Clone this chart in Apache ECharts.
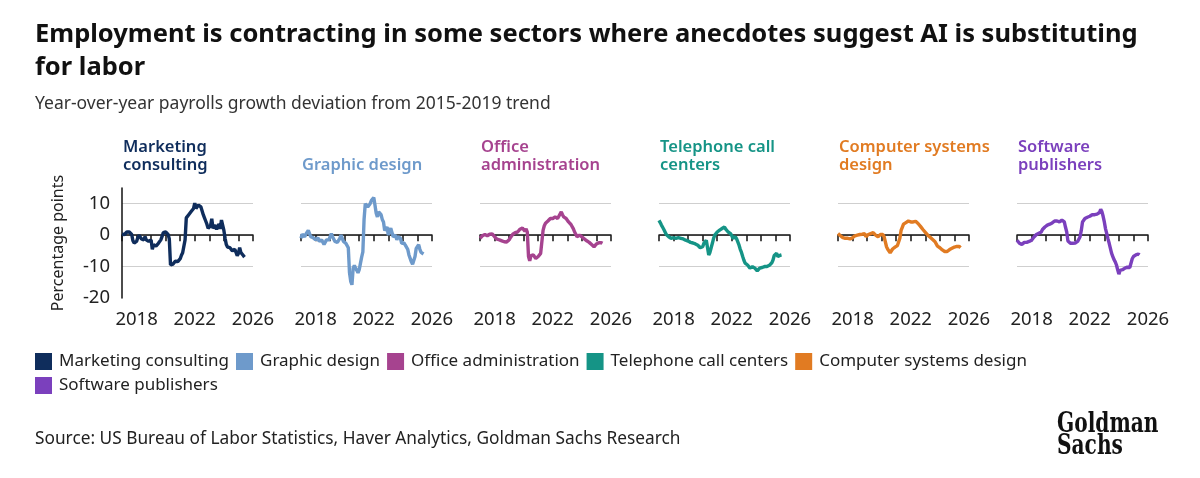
<!DOCTYPE html>
<html>
<head>
<meta charset="utf-8">
<script src="https://cdn.jsdelivr.net/npm/echarts@6/dist/echarts.min.js"></script>
<style>
    html, body { margin: 0; padding: 0; background: #fff; }
    #chart { width: 1200px; height: 478px; }
</style>
</head>
<body>
<div id="chart"></div>
<script>
// monthly observations, Jan 2017 .. Jun 2025
var startYear = 2017;

var sectorNames = ['Marketing consulting', 'Graphic design', 'Office administration',
    'Telephone call centers', 'Computer systems design', 'Software publishers'];
var panelTitles = ['Marketing\nconsulting', 'Graphic design', 'Office\nadministration',
    'Telephone call\ncenters', 'Computer systems\ndesign', 'Software\npublishers'];
var sectorColors = ['#0f2d5c', '#6e9acb', '#a6438f', '#159486', '#e17b22', '#7b40bd'];

var xTickLabels = [2018, 2022, 2026];
var yTickLabels = [-20, -10, 0, 10];

var marketing = [0.3, 0, 0.2, 0.5, 1.0, 1.2, 1.0, 0.8, 0.2, -1.8, -2.5, -3.0,
    -2.0, -0.8, 0, -0.5, -1.2, -0.6, -1.5, -0.5, -1.5, -1.2, -2.0, -2.2,
    -1.5, -4.5, -3.0, -2.8, -3.5, -3.2, -2.6, -2.6, -1.5, -0.5, 0.8, 1.0,
    1.0, 0.6, 0.2, -1.2, -9.5, -9.6, -9.2, -8.8, -8.3, -8.0, -8.4, -7.8,
    -7.5, -6.4, -5.6, -5.3, -1.5, 5.5, 6.0, 6.5, 6.8, 7.5, 7.8, 8.5,
    10.2, 8.5, 9.0, 9.6, 10.0, 9.0, 8.5, 6.5, 5.5, 4.5, 3.5, 2.2,
    2.5, 3.0, 5.2, 2.2, 2.8, 3.2, 1.8, 2.8, 3.5, 2.0, 4.8, 4.6,
    1.5, -1.0, -3.0, -3.8, -4.2, -4.0, -3.5, -5.0, -5.6, -4.5, -5.5, -6.5,
    -5.8, -4.0, -5.5, -6.0, -6.5, -7.0];

var graphic = [-1.0, 0.3, 0.0, -0.5, 0.3, 0.8, 1.5, 2.0, -0.5, -0.3, -0.8, -1.2,
    -1.5, -1.0, -0.8, -2.0, -2.4, -1.5, -2.0, -3.0, -2.5, -1.5, -1.8, -1.5,
    -0.5, 0.5, -0.5, -1.0, -2.0, -2.6, -2.3, -2.0, -1.0, 0.0, -1.0, -2.0,
    -2.6, -2.6, -3.2, -4.0, -12.0, -14.7, -15.8, -10.5, -9.6, -10.5, -11.2, -12.0,
    -11.0, -9.0, -7.0, -5.3, 5.0, 10.0, 10.5, 9.0, 9.5, 10.0, 11.0, 11.5,
    12.0, 9.5, 7.0, 5.8, 7.4, 8.0, 6.5, 5.0, 4.2, 1.5, 2.0, 2.6,
    0.0, 1.5, 2.2, 2.6, -0.5, -0.5, 0.0, -1.5, -0.5, -0.8, -1.0, -2.6,
    -2.0, -2.5, -3.2, -2.6, -4.5, -6.3, -7.4, -8.5, -9.3, -9.0, -6.8, -4.2,
    -3.7, -3.0, -4.5, -5.5, -5.8, -6.0];

var office = [-1.0, -0.4, -0.2, 0.0, 0.2, 0.3, -0.2, 0.0, 0.3, 0.0, 0.4, 0.5,
    -0.5, -1.0, -1.3, -1.4, -1.5, -1.6, -1.8, -1.9, -2.1, -2.3, -2.2, -2.0,
    -1.5, -0.8, -0.2, 0.3, 0.7, 0.8, 1.0, 1.0, 1.4, 1.9, 1.6, 2.3,
    1.8, 1.2, 2.0, 1.0, -6.8, -8.2, -6.5, -6.8, -6.3, -6.6, -7.4, -7.0,
    -6.8, -6.4, -5.8, -5.5, 1.5, 3.0, 3.8, 4.0, 4.5, 5.0, 5.3, 5.0,
    5.3, 5.5, 5.8, 5.5, 5.3, 6.0, 6.3, 7.4, 6.5, 5.8, 5.5, 5.3,
    4.8, 4.2, 3.8, 3.4, 3.2, 2.0, 1.0, 0.3, -0.5, -0.2, 0.0, -0.3,
    -0.5, -0.8, -1.2, -1.5, -1.8, -2.1, -2.3, -2.6, -3.0, -3.2, -3.7, -3.2,
    -2.8, -2.3, -2.4, -2.1, -2.4, -2.6];

var telephone = [4.7, 4.0, 3.2, 2.5, 1.8, 1.0, 0.2, 0.0, -0.5, -0.8, -1.0, -0.7,
    -0.8, -1.2, -1.0, -0.9, -0.8, -1.1, -1.0, -1.3, -1.2, -1.5, -1.6, -1.5,
    -1.9, -2.0, -2.3, -2.2, -2.5, -2.7, -2.8, -3.0, -3.2, -3.6, -4.0, -3.8,
    -3.7, -2.6, -2.0, -1.6, -2.1, -6.3, -5.5, -4.0, -2.6, -1.0, 0.0, 0.6,
    1.0, 1.4, 1.6, 1.8, 2.1, 2.4, 2.6, 1.9, 1.5, 1.0, 0.8, 0.5,
    -0.2, -1.0, -1.6, -0.5, -1.2, -1.6, -3.2, -4.5, -5.5, -6.8, -8.0, -8.9,
    -9.3, -9.5, -10.0, -10.5, -10.2, -10.0, -10.3, -10.5, -10.8, -11.4, -10.8, -10.5,
    -10.6, -10.3, -10.5, -10.0, -10.2, -10.0, -9.8, -9.6, -9.5, -8.8, -7.9, -6.5,
    -5.9, -5.8, -6.8, -6.5, -6.4, -6.3];

var computer = [0.5, 0.3, -0.2, -0.4, -0.8, -0.9, -1.0, -1.1, -1.0, -1.3, -1.2, -1.0,
    -0.8, -0.6, -0.2, -0.1, 0.0, 0.0, 0.2, 0.4, 0.3, 0.5, 0.5, -0.5,
    0.0, 0.2, 0.4, 0.5, 0.6, 0.8, 0.5, 0.0, -0.3, -0.5, 0.0, 0.2,
    -0.3, 0.2, -0.5, -1.0, -3.7, -4.5, -5.0, -5.6, -5.0, -4.4, -4.2, -3.8,
    -3.7, -3.3, -3.0, -1.0, 1.5, 2.5, 3.5, 3.8, 4.0, 4.2, 4.5, 4.3,
    4.2, 4.3, 4.2, 4.5, 4.4, 4.0, 3.7, 3.2, 2.8, 2.2, 1.8, 1.3,
    0.9, 0.5, 0.0, -0.3, -0.7, -1.0, -1.4, -1.8, -2.1, -2.6, -3.5, -3.9,
    -4.0, -4.4, -4.7, -5.0, -5.2, -5.0, -5.2, -4.7, -4.6, -4.4, -4.2, -4.0,
    -3.8, -3.7, -3.6, -3.5, -3.6, -4.0];

var software = [-1.6, -2.0, -2.6, -2.8, -3.0, -2.5, -2.3, -2.6, -2.3, -2.3, -2.0, -1.8,
    -1.6, -1.0, -0.6, -0.3, 0.2, 0.5, 0.6, 0.8, 1.0, 1.8, 2.3, 2.6,
    2.8, 3.2, 3.2, 3.5, 3.7, 3.9, 4.2, 4.5, 4.3, 4.5, 4.4, 4.2,
    4.0, 4.8, 5.3, 4.2, 2.5, 1.0, -1.9, -2.4, -2.6, -2.5, -2.6, -2.4,
    -2.5, -2.3, -2.0, -1.9, -0.5, 1.5, 4.2, 4.8, 5.3, 5.4, 5.7, 5.8,
    6.0, 6.3, 6.5, 6.8, 6.5, 6.5, 6.7, 6.8, 7.2, 8.2, 7.5, 6.0,
    4.2, 2.0, 0.5, -1.2, -2.6, -4.2, -5.8, -6.8, -7.8, -8.5, -9.5, -11.0,
    -12.4, -11.2, -11.0, -11.0, -10.6, -10.5, -10.8, -10.2, -10.0, -10.3, -10.0, -7.5,
    -6.8, -6.5, -6.3, -5.8, -6.0, -6.3];

var sectorValues = [marketing, graphic, office, telephone, computer, software];

var panelLefts = [122, 301, 480, 659, 838, 1017];
var panelWidth = 131;
var fontFamily = 'Noto Sans';

var chart = echarts.init(document.getElementById('chart'), null, {renderer: 'canvas'});

function monthX(i) {
    return startYear + i / 12;
}

function genOption() {
    var grids = [], xAxes = [], yAxes = [], series = [];
    var titles = [{
        text: 'Employment is contracting in some sectors where anecdotes suggest AI is substituting\nfor labor',
        left: 35, top: 18, padding: 0,
        textStyle: {fontFamily: fontFamily, fontSize: 25.5, fontWeight: 'bold', color: '#111', lineHeight: 33}
    }, {
        text: 'Year-over-year payrolls growth deviation from 2015-2019 trend',
        left: 35, top: 95, padding: 0,
        textStyle: {fontFamily: fontFamily, fontSize: 17.5, fontWeight: 'normal', color: '#333'}
    }, {
        text: 'Source: US Bureau of Labor Statistics, Haver Analytics, Goldman Sachs Research',
        left: 35, top: 431, padding: 0,
        textStyle: {fontFamily: fontFamily, fontSize: 17.3, fontWeight: 'normal', color: '#222'}
    }];

    for (var k = 0; k < sectorNames.length; k++) {
        var twoLines = panelTitles[k].indexOf('\n') >= 0;
        titles.push({
            text: panelTitles[k],
            left: panelLefts[k] + 1, top: twoLines ? 138 : 156, padding: 0,
            textStyle: {fontFamily: fontFamily, fontSize: 16.5, fontWeight: 600, color: sectorColors[k], lineHeight: 18}
        });
        grids.push({left: panelLefts[k], width: panelWidth, top: 188, height: 110});
        xAxes.push({
            type: 'value', gridIndex: k, min: 2017, max: 2026, interval: 1,
            axisLine: {show: true, lineStyle: {color: '#111', width: 1.5}},
            axisTick: {show: true, length: 6, lineStyle: {color: '#111', width: 1.5}},
            splitLine: {show: false},
            axisLabel: {
                fontFamily: fontFamily, fontSize: 18.5, color: '#222', margin: 12,
                showMinLabel: true, showMaxLabel: true,
                formatter: function (v) {
                    return xTickLabels.indexOf(Math.round(v)) >= 0 ? String(Math.round(v)) : '';
                }
            }
        });
        yAxes.push({
            type: 'value', gridIndex: k, min: -20, max: 15, interval: 10,
            name: k === 0 ? 'Percentage points' : '',
            nameLocation: 'middle', nameGap: 56,
            nameTextStyle: {fontFamily: fontFamily, fontSize: 16, color: '#222'},
            axisLine: {show: k === 0, lineStyle: {color: '#111', width: 1.5}},
            axisTick: {show: false},
            splitLine: {show: true, showMinLine: false, showMaxLine: false, lineStyle: {color: '#cfcfcf', width: 1.2}},
            axisLabel: {
                show: k === 0, fontFamily: fontFamily, fontSize: 18.5, color: '#222', margin: 12,
                showMaxLabel: false,
                formatter: function (v) {
                    return yTickLabels.indexOf(v) >= 0 ? String(v) : '';
                }
            }
        });
        var pts = [];
        for (var i = 0; i < sectorValues[k].length; i++) {
            pts.push([monthX(i), sectorValues[k][i]]);
        }
        series.push({
            name: sectorNames[k], type: 'line', xAxisIndex: k, yAxisIndex: k,
            data: pts, showSymbol: false, symbol: 'none',
            color: sectorColors[k],
            lineStyle: {width: 3.4, color: sectorColors[k]},
            itemStyle: {color: sectorColors[k]},
            animation: false
        });
    }

    return {
        backgroundColor: '#fff',
        animation: false,
        title: titles,
        legend: {
            left: 35, top: 353, width: 1010, padding: 0,
            icon: 'rect', itemWidth: 17, itemHeight: 17, itemGap: 7,
            textStyle: {fontFamily: fontFamily, fontSize: 17, color: '#222', padding: [0, 0, 0, 2]},
            data: sectorNames
        },
        grid: grids,
        xAxis: xAxes,
        yAxis: yAxes,
        series: series,
        graphic: [{
            type: 'text', x: 1057, y: 414, scaleX: 0.8,
            style: {
                text: 'Goldman\nSachs', fill: '#111',
                font: 'bold 28px "DejaVu Serif Condensed"', lineHeight: 22
            }
        }]
    };
}

chart.setOption(genOption());
</script>
</body>
</html>
